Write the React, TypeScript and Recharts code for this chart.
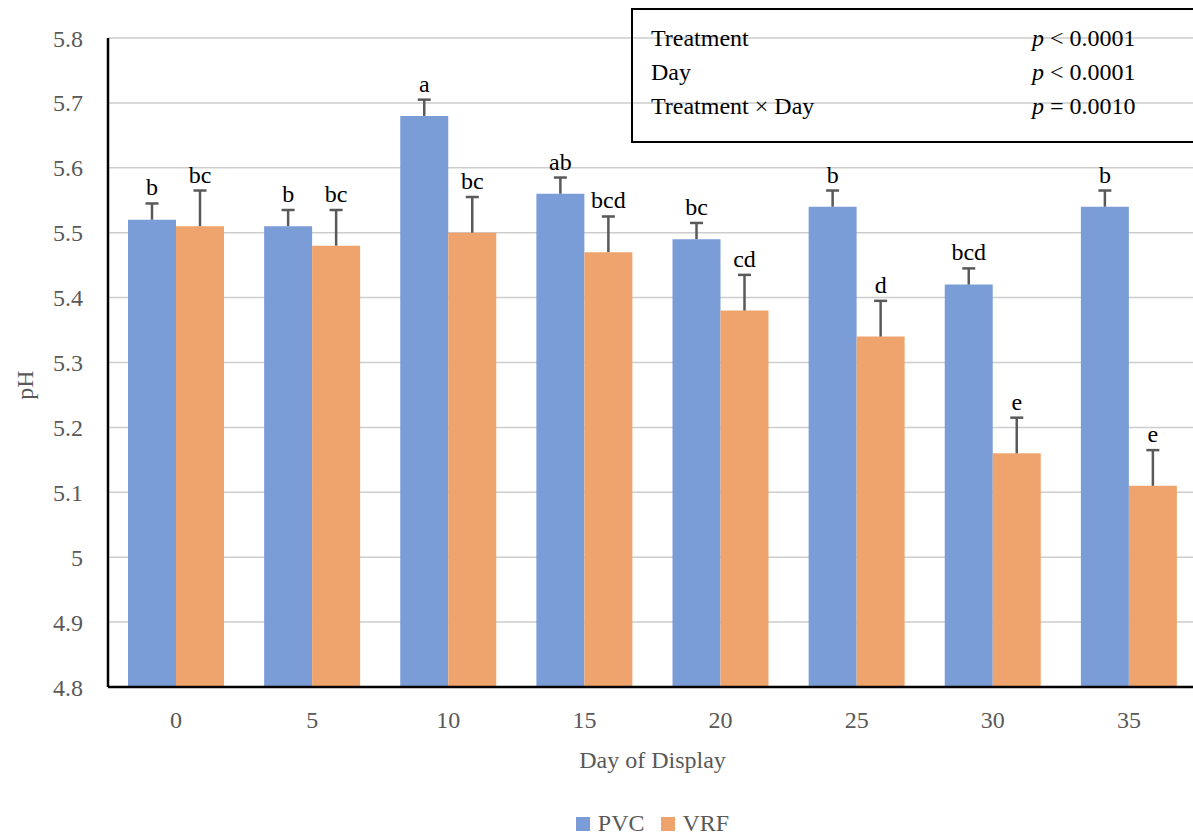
import React from 'react';
import { BarChart, Bar, XAxis, YAxis, CartesianGrid, Legend, LabelList } from 'recharts';

const FONT = '"Liberation Serif", "DejaVu Serif", serif';
const AXIS_GREY = '#595959';

const days = ['0', '5', '10', '15', '20', '25', '30', '35'];
const pvc = [5.52, 5.51, 5.68, 5.56, 5.49, 5.54, 5.42, 5.54];
const pvcSe = [0.025, 0.025, 0.025, 0.025, 0.025, 0.025, 0.025, 0.025];
const vrf = [5.51, 5.48, 5.5, 5.47, 5.38, 5.34, 5.16, 5.11];
const vrfSe = [0.055, 0.055, 0.055, 0.055, 0.055, 0.055, 0.055, 0.055];
const pvcLetters = ['b', 'b', 'a', 'ab', 'bc', 'b', 'bcd', 'b'];
const vrfLetters = ['bc', 'bc', 'bc', 'bcd', 'cd', 'd', 'e', 'e'];
const yTicks = [4.8, 4.9, 5.0, 5.1, 5.2, 5.3, 5.4, 5.5, 5.6, 5.7, 5.8];

const statsRows = [
  { term: 'Treatment', op: '<', p: '0.0001' },
  { term: 'Day', op: '<', p: '0.0001' },
  { term: 'Treatment × Day', op: '=', p: '0.0010' },
];

const PLOT_TOP = 38;
const PLOT_BOTTOM = 687;
const Y_MIN = 4.8;
const Y_MAX = 5.8;
const pxPerUnit = (PLOT_BOTTOM - PLOT_TOP) / (Y_MAX - Y_MIN);

const chartData = days.map((day, i) => ({
  day,
  pvc: pvc[i],
  vrf: vrf[i],
  pvcLetter: pvcLetters[i],
  vrfLetter: vrfLetters[i],
}));

// upward-only error whisker plus the significance letter above it
function whiskerLabel(errs: number[]) {
  return (props: any) => {
    const vb = props.viewBox || props;
    const x = vb.x ?? props.x;
    const y = vb.y ?? props.y;
    const width = vb.width ?? props.width;
    const idx = props.index ?? 0;
    const cx = x + width / 2;
    const capY = y - errs[idx] * pxPerUnit;
    return (
      <g>
        <line x1={cx} x2={cx} y1={y} y2={capY} stroke="#595959" strokeWidth={2.5} />
        <line x1={cx - 6.5} x2={cx + 6.5} y1={capY} y2={capY} stroke="#595959" strokeWidth={2.5} />
        <text x={cx} y={capY - 8} textAnchor="middle" fontSize={24} fill="#000" fontFamily={FONT}>
          {props.value}
        </text>
      </g>
    );
  };
}

function LegendContent(props: any) {
  const items = props.payload || [];
  return (
    <div style={{ display: 'flex', justifyContent: 'center', alignItems: 'center', fontFamily: FONT, fontSize: 24, color: AXIS_GREY }}>
      {items.map((it: any, i: number) => (
        <div key={i} style={{ display: 'flex', alignItems: 'center', marginLeft: i === 0 ? 0 : 16 }}>
          <span style={{ display: 'inline-block', width: 14, height: 14, background: it.color, marginRight: 8 }} />
          <span>{it.value}</span>
        </div>
      ))}
    </div>
  );
}

const css = `
.chart-wrap text { font-family: ${FONT}; }
.chart-wrap .recharts-cartesian-axis-tick-value,
.chart-wrap .recharts-label { font-size: 24px; fill: ${AXIS_GREY}; }
`;

export default function App() {
  return (
    <div className="chart-wrap" style={{ position: 'absolute', left: 0, top: 0, width: 1193, height: 840, overflow: 'hidden', background: '#fff', fontFamily: FONT }}>
      <style>{css}</style>
      <BarChart
        width={1200}
        height={840}
        data={chartData}
        margin={{ top: PLOT_TOP, right: 3, left: 0, bottom: 0 }}
        barGap={0}
        barSize={48}
      >
        <CartesianGrid vertical={false} stroke="#cdcdcd" strokeWidth={1.5} />
        <XAxis
          dataKey="day"
          height={123}
          tickLine={false}
          tickSize={0}
          tickMargin={24}
          axisLine={{ stroke: '#000', strokeWidth: 2.5 }}
          tick={{ fill: AXIS_GREY, fontSize: 24, fontFamily: FONT }}
          label={{ value: 'Day of Display', position: 'insideTop', offset: 64, fill: AXIS_GREY, fontSize: 24, fontFamily: FONT }}
        />
        <YAxis
          width={108}
          domain={[Y_MIN, Y_MAX]}
          ticks={yTicks}
          interval={0}
          allowDataOverflow
          tickLine={false}
          tickSize={0}
          tickMargin={25}
          axisLine={{ stroke: '#000', strokeWidth: 2.5 }}
          tick={{ fill: AXIS_GREY, fontSize: 24, fontFamily: FONT }}
          tickFormatter={(v: number) => String(Number(v.toFixed(1)))}
          label={{
            content: () => (
              <text transform="translate(33,385) rotate(-90)" textAnchor="middle" fill={AXIS_GREY} fontSize={24} fontFamily={FONT}>
                pH
              </text>
            ),
          }}
        />
        <Legend
          verticalAlign="bottom"
          height={30}
          wrapperStyle={{ left: 108, width: 1089 }}
          content={<LegendContent />}
        />
        <Bar dataKey="pvc" name="PVC" fill="#7B9DD7" isAnimationActive={false}>
          <LabelList dataKey="pvcLetter" content={whiskerLabel(pvcSe)} />
        </Bar>
        <Bar dataKey="vrf" name="VRF" fill="#F0A46D" isAnimationActive={false}>
          <LabelList dataKey="vrfLetter" content={whiskerLabel(vrfSe)} />
        </Bar>
      </BarChart>

      <div
        style={{
          position: 'absolute',
          left: 631,
          top: 8,
          width: 640,
          height: 135,
          boxSizing: 'border-box',
          border: '2.5px solid #000',
          fontFamily: FONT,
          fontSize: 24,
          color: '#000',
        }}
      >
        {statsRows.map((r, i) => (
          <React.Fragment key={r.term}>
            <div style={{ position: 'absolute', left: 18, top: 11 + i * 34, lineHeight: '34px', whiteSpace: 'nowrap' }}>{r.term}</div>
            <div style={{ position: 'absolute', left: 399, top: 11 + i * 34, lineHeight: '34px', whiteSpace: 'nowrap' }}>
              <i>p</i> {r.op} {r.p}
            </div>
          </React.Fragment>
        ))}
      </div>
    </div>
  );
}
